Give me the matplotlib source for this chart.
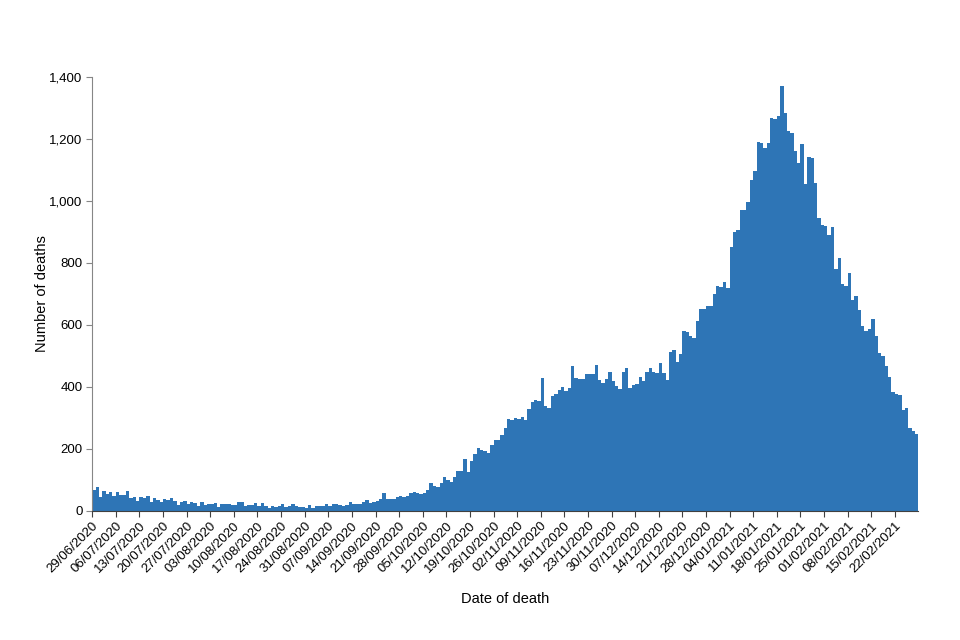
import numpy as np
import pandas as pd
import matplotlib
matplotlib.use('Agg')
import matplotlib.pyplot as plt
from matplotlib.ticker import FuncFormatter

plt.rcParams['font.family'] = ['Liberation Sans', 'DejaVu Sans']

start_date = '2020-06-29'
deaths = [
    # 29/06 - 08/08
    68, 76, 46, 66, 55, 60, 49, 60, 52, 52, 66, 41, 46, 32, 46, 43, 48, 29, 41, 35,
    30, 38, 36, 41, 32, 19, 28, 32, 22, 29, 25, 17, 29, 19, 22, 22, 25, 13, 22, 22,
    24,
    # 09/08 - 20/09
    19, 19, 28, 28, 17, 19, 19, 25, 17, 25, 17, 10, 17, 14, 16, 22, 14, 17, 22, 16,
    14, 14, 10, 19, 11, 17, 15, 16, 22, 16, 22, 22, 19, 17, 19, 28, 22, 22, 22, 30,
    35, 27, 28,
    # 21/09 - 02/11
    32, 38, 57, 38, 38, 38, 46, 48, 44, 48, 59, 62, 59, 55, 59, 68, 91, 81, 76, 91,
    111, 100, 95, 109, 130, 130, 168, 126, 162, 184, 202, 197, 195, 186, 213, 229, 229, 245, 267, 296,
    294, 299, 296,
    # 03/11 - 16/12
    304, 294, 328, 353, 358, 355, 430, 339, 333, 372, 376, 390, 399, 388, 396, 468, 428, 425, 425, 442,
    442, 442, 471, 423, 412, 425, 449, 419, 403, 395, 449, 460, 396, 406, 410, 433, 419, 447, 460, 447,
    445, 476, 445, 423,
    # 18/12 - 07/01
    512, 518, 482, 505, 581, 578, 566, 557, 613, 651, 652, 662, 662, 699, 727, 722, 738, 718, 851, 900,
    906,
    # 08/01 - 06/02
    971, 972, 998, 1068, 1097, 1191, 1186, 1172, 1188, 1267, 1265, 1274, 1372, 1285, 1227, 1218, 1162, 1122, 1184, 1054,
    1141, 1138, 1057, 944, 923, 919, 890, 915,
    # 06/02 - 28/02
    781, 817, 731, 726, 767, 681, 695, 648, 598, 581, 587, 619, 565, 511, 501, 468, 433, 385, 376, 374,
    326, 333, 269, 258, 248,
]

dates = pd.date_range(start_date, periods=len(deaths), freq='D')
x = np.arange(len(deaths))
tick_pos = x[::7]
tick_labels = [d.strftime('%d/%m/%Y') for d in dates[::7]]

fig = plt.figure(figsize=(9.6, 6.4), dpi=100)
ax = fig.add_axes([0.0961, 0.2016, 0.8606, 0.6781])

ax.bar(x, deaths, width=1.0, align='edge', color='#2E75B6', linewidth=0)

ax.set_xlim(0, len(deaths))
ax.set_ylim(0, 1400)
ax.set_yticks(range(0, 1401, 200))
ax.yaxis.set_major_formatter(FuncFormatter(lambda v, p: f'{int(v):,}'))
ax.set_xticks(tick_pos)
ax.set_xticklabels(tick_labels, rotation=45, ha='right', rotation_mode='anchor')

ax.tick_params(axis='y', labelsize=9.5, length=4, color='#868686', pad=3)
ax.tick_params(axis='x', labelsize=9.5, length=4, color='#404040', pad=2)

for s in ['top', 'right']:
    ax.spines[s].set_visible(False)
ax.spines['left'].set_color('#868686')
ax.spines['bottom'].set_color('#404040')

ax.set_xlabel('Date of death', fontsize=10.5)
ax.set_ylabel('Number of deaths', fontsize=10.5)
ax.xaxis.set_label_coords(0.5, -0.187)
ax.yaxis.set_label_coords(-0.052, 0.5)

plt.savefig('out.png', dpi=100)
